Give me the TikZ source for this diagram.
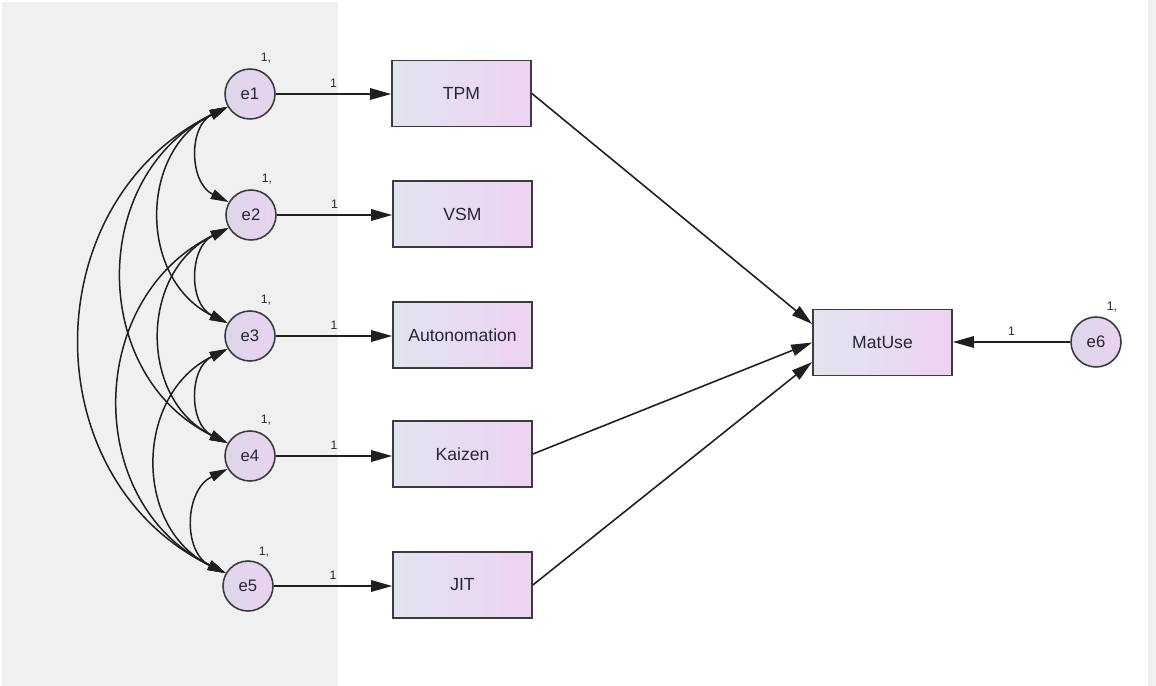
\documentclass[tikz,border=0pt]{standalone}
\usepackage{fontspec}
\setmainfont{Liberation Sans}
\usetikzlibrary{arrows.meta}
\definecolor{bg}{HTML}{F0F0F0}
\definecolor{bord}{HTML}{3C3C3C}
\definecolor{txt}{HTML}{262633}
\definecolor{boxL}{HTML}{E2E5F0}
\definecolor{boxR}{HTML}{EDD2F2}
\definecolor{cirL}{HTML}{DCD7EA}
\definecolor{cirR}{HTML}{E9D3F0}
\tikzset{
  obs/.style={draw=bord, line width=1pt, minimum width=2.78cm, minimum height=1.32cm,
    left color=boxL, right color=boxR, text=txt, inner sep=0pt,
    font=\fontsize{10}{12}\selectfont},
  err/.style={circle, draw=bord, line width=0.9pt, minimum size=1cm,
    left color=cirL, right color=cirR, text=txt, inner sep=0pt,
    font=\fontsize{9.5}{11}\selectfont},
  small/.style={text=txt, inner sep=0pt, font=\fontsize{7}{8}\selectfont},
  path/.style={draw=black!88, line width=0.9pt, -{Triangle[length=0.42cm,width=0.23cm]}},
  cov/.style={draw=black!88, line width=0.85pt,
    {Triangle[length=0.36cm,width=0.2cm]}-{Triangle[length=0.36cm,width=0.2cm]}},
  lab/.style={small, midway, above=3.5pt}
}
\begin{document}
\begin{tikzpicture}[x=0.02cm,y=0.02cm]
\useasboundingbox (0,0) rectangle (1156,-686);
\fill[bg] (2,-2) rectangle (338,-686);
\fill[bg] (1148,0) rectangle (1156,-686);

% latent error terms
\node[err] (e1) at (250,-94) {e1};
\node[err] (e2) at (251,-215) {e2};
\node[err] (e3) at (250,-336) {e3};
\node[err] (e4) at (250,-456) {e4};
\node[err] (e5) at (248,-586) {e5};
\node[err] (e6) at (1096,-342) {e6};

% variance labels
\node[small] (v1) at (266,-58) {1,};
\node[small] (v2) at (267,-179) {1,};
\node[small] (v3) at (266,-300) {1,};
\node[small] (v4) at (266,-420) {1,};
\node[small] (v5) at (264,-552) {1,};
\node[small] (v6) at (1112,-307) {1,};

% observed variables
\node[obs] (TPM) at (461.5,-93.5) {TPM};
\node[obs] (VSM) at (462.5,-214) {VSM};
\node[obs] (Aut) at (462.5,-335) {Autonomation};
\node[obs] (Kai) at (462.5,-454) {Kaizen};
\node[obs] (JIT) at (462.5,-585) {JIT};
\node[obs] (Mat) at (882.5,-342.5) {MatUse};

% error paths
\draw[path] (e1.east) -- (e1.east -| TPM.west) node[lab] {1};
\draw[path] (e2.east) -- (e2.east -| VSM.west) node[lab] {1};
\draw[path] (e3.east) -- (e3.east -| Aut.west) node[lab] {1};
\draw[path] (e4.east) -- (e4.east -| Kai.west) node[lab] {1};
\draw[path] (e5.east) -- (e5.east -| JIT.west) node[lab] {1};
\draw[path] (e6.west) -- (e6.west -| Mat.east) node[lab] {1};

% structural paths
\draw[path] (TPM.east) -- ([yshift=0.37cm]Mat.west);
\draw[path] (Kai.east) -- (Mat.west);
\draw[path] (JIT.east) -- ([yshift=-0.39cm]Mat.west);

% covariances
\draw[cov] (e1.210) to[out=206,in=154,looseness=1.18] (e2.150);
\draw[cov] (e1.210) to[out=206,in=154,looseness=1.18] (e3.150);
\draw[cov] (e1.210) to[out=206,in=154,looseness=1.18] (e4.150);
\draw[cov] (e1.210) to[out=206,in=154,looseness=1.18] (e5.150);
\draw[cov] (e2.210) to[out=206,in=154,looseness=1.18] (e3.150);
\draw[cov] (e2.210) to[out=206,in=154,looseness=1.18] (e4.150);
\draw[cov] (e2.210) to[out=206,in=154,looseness=1.18] (e5.150);
\draw[cov] (e3.210) to[out=206,in=154,looseness=1.18] (e4.150);
\draw[cov] (e3.210) to[out=206,in=154,looseness=1.18] (e5.150);
\draw[cov] (e4.210) to[out=206,in=154,looseness=1.18] (e5.150);
\end{tikzpicture}
\end{document}
